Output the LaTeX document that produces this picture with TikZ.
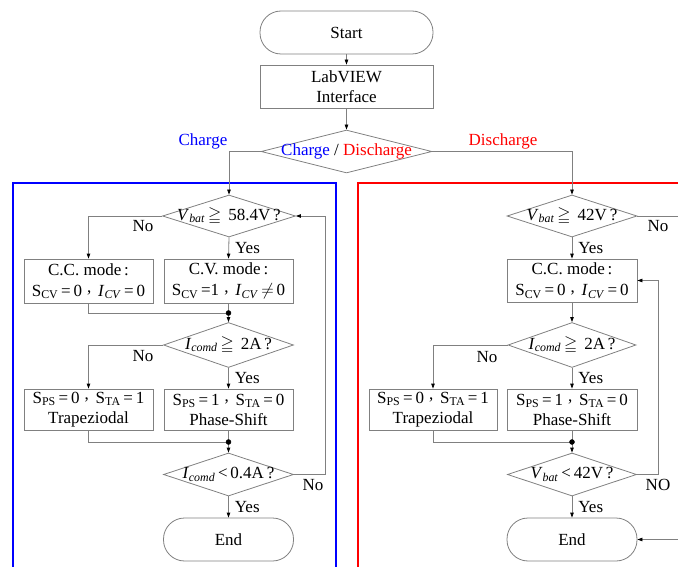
\documentclass[tikz,border=0pt]{standalone}
\usepackage{amssymb}
\usepackage{fontspec}
\setmainfont{Liberation Serif}
\usetikzlibrary{shapes.geometric,arrows.meta}
\definecolor{cblue}{RGB}{0,0,255}
\definecolor{fred}{RGB}{255,0,0}
\definecolor{lgray}{RGB}{128,128,128}
\newcommand{\cm}{\hspace{0.3em}\raisebox{0.45ex}{,}\hspace{0.4em}}
\newcommand{\sub}[1]{\textsubscript{#1}}
\begin{document}
\begin{tikzpicture}[x=1pt,y=-1pt,
  font=\fontsize{17}{20}\selectfont,
  ln/.style={draw=lgray,line width=0.8pt},
  arr/.style={ln,-{Triangle[length=5pt,width=3.5pt,color=black,fill=black]}},
  proc/.style={draw=lgray,line width=0.8pt,minimum width=129pt,minimum height=42pt,inner sep=0pt,align=center},
  term/.style={proc,rounded corners=21pt},
  dia/.style={draw=lgray,line width=0.8pt,diamond,inner sep=0pt},
  lbl/.style={inner sep=0pt},
  dotn/.style={circle,fill=black,draw=black,inner sep=0pt,minimum size=5pt}]
\useasboundingbox (0,0) rectangle (678,567);
\clip (0,0) rectangle (678,567);
% frames
\fill[cblue] (12,182) rectangle (14,600);
\fill[cblue] (12,182) rectangle (337,184);
\fill[cblue] (335,182) rectangle (337,600);
\fill[red] (357,182.5) rectangle (359,600);
\fill[red] (357,182.5) rectangle (700,184.5);
% top
\node[term,minimum width=173pt,minimum height=43pt] (start) at (346.5,32.5) {Start};
\node[proc,minimum width=173pt,minimum height=43pt] (lab) at (346.5,86.5) {LabVIEW\\Interface};
\node[dia,minimum width=171pt,minimum height=43pt] (cd) at (346.5,151.5) {};
\node[lbl] (cdt) at (346.5,151.5) {\textcolor{cblue}{Charge} / \textcolor{fred}{Discharge}};
\node[lbl,text=cblue] (chg) at (203,141) {Charge};
\node[lbl,text=fred] (dchg) at (503,141) {Discharge};
\draw[arr] (start) -- (lab);
\draw[arr] (lab) -- (cd);
% left column
\node[dia,minimum width=133pt,minimum height=42pt] (d1) at (229,216) {};
\node[lbl] (d1t) at (229,216) {\textit{V}\sub{\textit{bat}}\,$\geqq$\, 58.4V\,?};
\node[proc,minimum height=44pt] (cc1) at (88.5,281) {C.C. mode\,:\\[1pt]S\sub{CV}\,=\,0\cm\textit{I}\sub{\textit{CV}}\,=\,0};
\node[proc,minimum height=44pt] (cv1) at (228.5,281) {C.V. mode\,:\\[1pt]S\sub{CV}\,=1\cm\textit{I}\sub{\textit{CV}}\,$\neq$\,0};
\coordinate (j1) at (228.5,313);
\node[dia,minimum width=130pt,minimum height=45pt] (d2) at (228.5,345) {};
\node[lbl] (d2t) at (228.5,345) {\textit{I}\sub{\textit{comd}}\,$\geqq$\, 2A\,?};
\node[proc,minimum height=41pt] (ps0) at (88.5,409.5) {S\sub{PS}\,=\,0\cm S\sub{TA}\,=\,1\\Trapeziodal};
\node[proc,minimum height=41pt] (ps1) at (228.5,409.5) {S\sub{PS}\,=\,1\cm S\sub{TA}\,=\,0\\Phase-Shift};
\coordinate (j2) at (228.5,442);
\node[dia,minimum width=130pt,minimum height=43pt] (d3) at (228.5,474.5) {};
\node[lbl] (d3t) at (228.5,474.5) {\textit{I}\sub{\textit{comd}}\,<\,0.4A\,?};
\node[term,minimum width=130pt,minimum height=43pt] (end1) at (228.5,539.5) {End};
\coordinate (lp1) at (325,474.5);
\coordinate (lp2) at (325,216);
\draw[arr] (cd.west) -| (d1.north);
\draw[arr] (d1.west) -| (cc1.north);
\node[lbl] (no1) at (143,226) {No};
\draw[arr] (d1.south) -- (cv1.north) node[lbl,midway,right=6pt] (yes1) {Yes};
\draw[ln] (cc1.south) |- (j1);
\draw[ln] (cv1.south) -- (j1);
\draw[arr] (j1) -- (d2.north);
\draw[arr] (d2.west) -| (ps0.north);
\node[lbl] (no2) at (143,356) {No};
\draw[arr] (d2.south) -- (ps1.north) node[lbl,midway,right=6pt] (yes2) {Yes};
\draw[ln] (ps0.south) |- (j2);
\draw[ln] (ps1.south) -- (j2);
\draw[arr] (j2) -- (d3.north);
\draw[arr] (d3.south) -- (end1.north) node[lbl,midway,right=6pt] (yes3) {Yes};
\draw[arr] (d3.east) -- (lp1) -- (lp2) -- (d1.east);
\node[lbl] (no3) at (313,485) {No};
\node[dotn] (j1d) at (j1) {};
\node[dotn] (j2d) at (j2) {};
% right column
\node[dia,minimum width=130pt,minimum height=42pt] (r1) at (572,216) {};
\node[lbl] (r1t) at (572,216) {\textit{V}\sub{\textit{bat}}\,$\geqq$\, 42V\,?};
\node[proc,minimum width=130pt,minimum height=43pt] (rcc) at (572,280.5) {C.C. mode\,:\\[1pt]S\sub{CV}\,=\,0\cm\textit{I}\sub{\textit{CV}}\,=\,0};
\node[dia,minimum width=128pt,minimum height=45pt] (r2) at (572,345) {};
\node[lbl] (r2t) at (572,345) {\textit{I}\sub{\textit{comd}}\,$\geqq$\, 2A\,?};
\node[proc,minimum width=128pt,minimum height=41pt] (rps0) at (433,409.5) {S\sub{PS}\,=\,0\cm S\sub{TA}\,=\,1\\Trapeziodal};
\node[proc,minimum width=130pt,minimum height=41pt] (rps1) at (572,409.5) {S\sub{PS}\,=\,1\cm S\sub{TA}\,=\,0\\Phase-Shift};
\coordinate (rj2) at (572,442);
\node[dia,minimum width=129pt,minimum height=43pt] (r3) at (572,474.5) {};
\node[lbl] (r3t) at (572,474.5) {\textit{V}\sub{\textit{bat}}\,<\,42V\,?};
\node[term,minimum width=130pt,minimum height=43pt] (end2) at (572,539.5) {End};
\coordinate (rno) at (690,216);
\coordinate (rin) at (690,539.5);
\coordinate (rl1) at (658,474.5);
\coordinate (rl2) at (658,280.5);
\draw[arr] (cd.east) -| (r1.north);
\draw[ln] (r1.east) -- (rno);
\node[lbl] (rno1) at (658,226) {No};
\draw[arr] (r1.south) -- (rcc.north) node[lbl,midway,right=6pt] (ryes1) {Yes};
\draw[arr] (rcc.south) -- (r2.north);
\draw[arr] (r2.west) -| (rps0.north);
\node[lbl] (rno2) at (487,357) {No};
\draw[arr] (r2.south) -- (rps1.north) node[lbl,midway,right=6pt] (ryes2) {Yes};
\draw[ln] (rps0.south) |- (rj2);
\draw[ln] (rps1.south) -- (rj2);
\draw[arr] (rj2) -- (r3.north);
\draw[arr] (r3.south) -- (end2.north) node[lbl,midway,right=6pt] (ryes3) {Yes};
\draw[arr] (r3.east) -- (rl1) -- (rl2) -- (rcc.east);
\node[lbl] (rno3) at (658,485) {NO};
\draw[arr] (rin) -- (end2.east);
\node[dotn] (rj2d) at (rj2) {};
\end{tikzpicture}
\end{document}
